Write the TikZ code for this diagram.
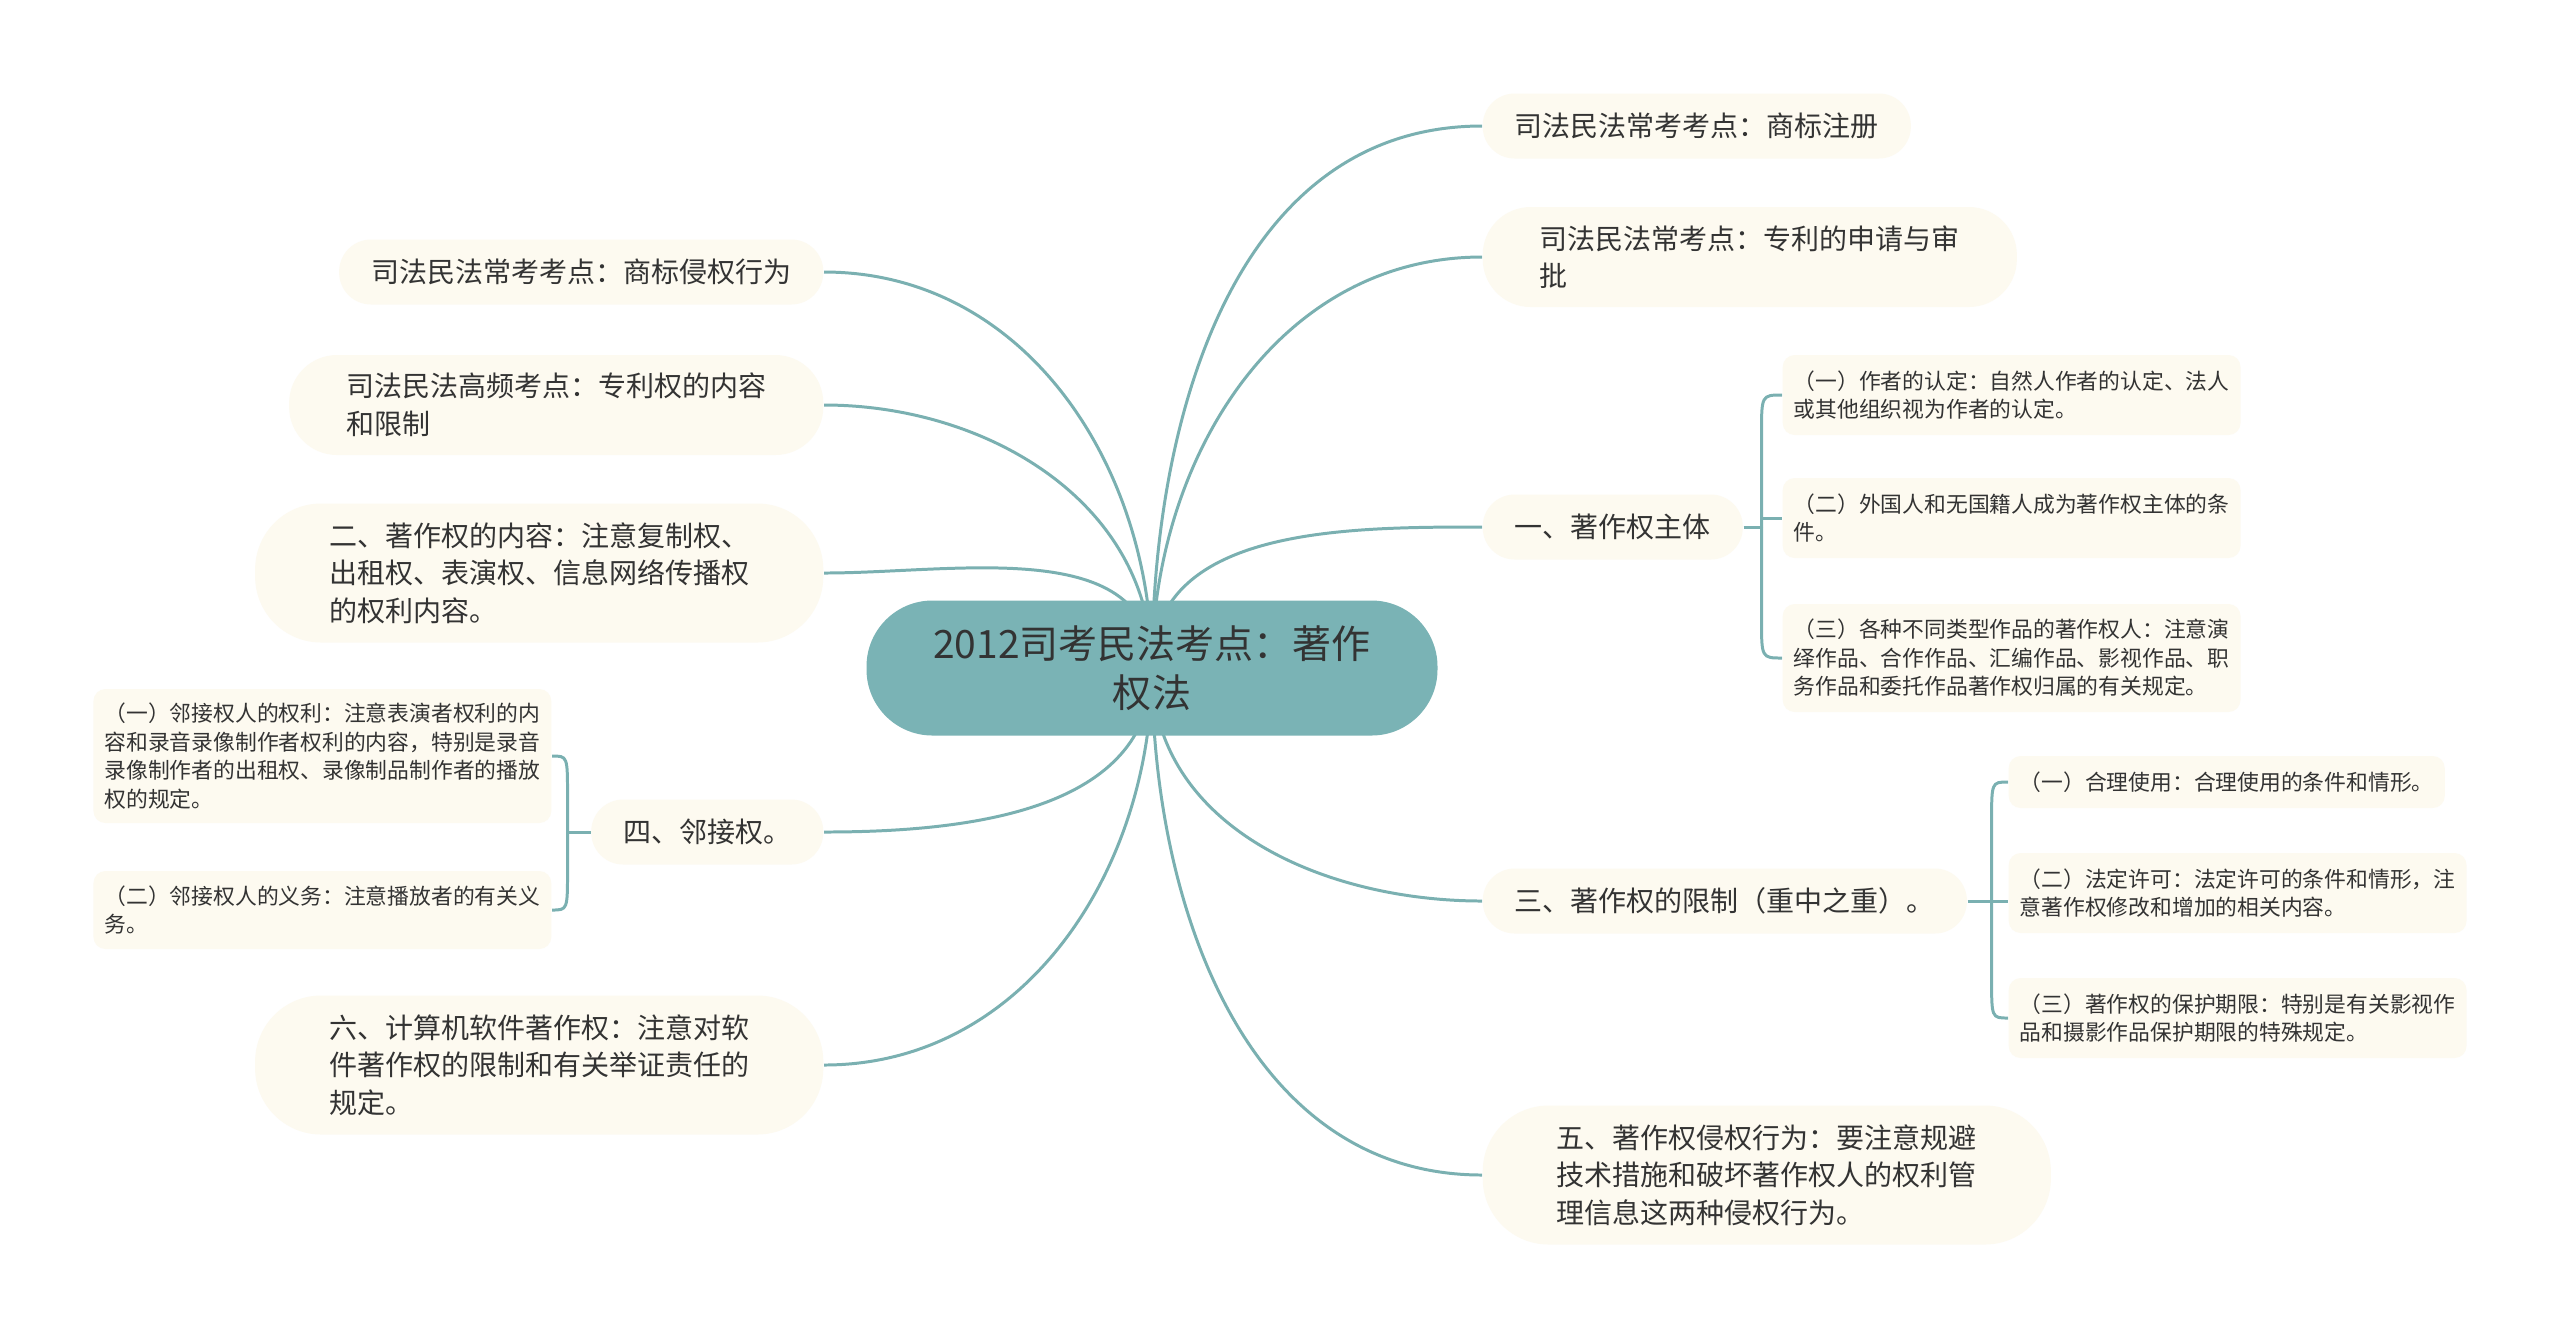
\documentclass[tikz,border=0pt]{standalone}
\usepackage{fontspec}
\setmainfont{Noto Sans CJK SC}
\usetikzlibrary{positioning,backgrounds}
\definecolor{rootcol}{HTML}{7AB3B5}
\definecolor{linkcol}{HTML}{7AB0B1}
\definecolor{creamcol}{HTML}{FDFAF0}
\definecolor{inkcol}{HTML}{333333}
\tikzset{root node/.style={fill=rootcol,text=inkcol,rounded corners=0.66cm,minimum width=5.71cm,minimum height=1.35cm,align=center,font=\fontsize{11.1}{13.9}\selectfont},
topic node/.style={fill=creamcol,text=inkcol,rounded corners=0.32cm,inner xsep=0.32cm,inner ysep=0pt,minimum height=0.65cm,align=left,font=\fontsize{7.97}{10.7}\selectfont},
twoline/.style={inner xsep=0.57cm,minimum height=1cm,rounded corners=0.48cm},
threeline/.style={inner xsep=0.74cm,minimum height=1.39cm,rounded corners=0.66cm},
leaf node/.style={fill=creamcol,text=inkcol,rounded corners=0.12cm,inner xsep=0.11cm,inner ysep=0pt,align=left,font=\fontsize{6.2}{8.1}\selectfont},
link/.style={draw=linkcol,line width=0.85pt},
}
\begin{document}
\begin{tikzpicture}
\useasboundingbox (0,0) rectangle (25.6,-13.38);
\node[root node] (root) at (11.52,-6.68) {2012司考民法考点：著作\\权法};

% right side
\node[topic node,anchor=west] (trademark) at (14.82,-1.26) {司法民法常考考点：商标注册};
\node[topic node,twoline,anchor=west] (patent) at (14.82,-2.57) {司法民法常考点：专利的申请与审\\批};
\node[topic node,anchor=west] (subject) at (14.82,-5.27) {一、著作权主体};
\node[topic node,anchor=west] (limits) at (14.82,-9.01) {三、著作权的限制（重中之重）。};
\node[topic node,threeline,anchor=west] (infringe) at (14.82,-11.75) {五、著作权侵权行为：要注意规避\\技术措施和破坏著作权人的权利管\\理信息这两种侵权行为。};

\node[leaf node,anchor=west,minimum height=0.8cm] (author) at (17.82,-3.95) {（一）作者的认定：自然人作者的认定、法人\\或其他组织视为作者的认定。};
\node[leaf node,anchor=west,minimum height=0.8cm] (foreign) at (17.82,-5.18) {（二）外国人和无国籍人成为著作权主体的条\\件。};
\node[leaf node,anchor=west,minimum height=1.08cm] (owner) at (17.82,-6.58) {（三）各种不同类型作品的著作权人：注意演\\绎作品、合作作品、汇编作品、影视作品、职\\务作品和委托作品著作权归属的有关规定。};

\node[leaf node,anchor=west,minimum height=0.52cm] (fairuse) at (20.08,-7.82) {（一）合理使用：合理使用的条件和情形。};
\node[leaf node,anchor=west,minimum height=0.8cm] (statutory) at (20.08,-8.93) {（二）法定许可：法定许可的条件和情形，注\\意著作权修改和增加的相关内容。};
\node[leaf node,anchor=west,minimum height=0.8cm] (term) at (20.08,-10.18) {（三）著作权的保护期限：特别是有关影视作\\品和摄影作品保护期限的特殊规定。};

% left side
\node[topic node,anchor=east] (tminfringe) at (8.24,-2.72) {司法民法常考考点：商标侵权行为};
\node[topic node,twoline,anchor=east] (patentright) at (8.24,-4.05) {司法民法高频考点：专利权的内容\\和限制};
\node[topic node,threeline,anchor=east] (content) at (8.24,-5.73) {二、著作权的内容：注意复制权、\\出租权、表演权、信息网络传播权\\的权利内容。};
\node[topic node,anchor=east] (neighbour) at (8.24,-8.32) {四、邻接权。};
\node[topic node,threeline,anchor=east] (software) at (8.24,-10.65) {六、计算机软件著作权：注意对软\\件著作权的限制和有关举证责任的\\规定。};

\node[leaf node,anchor=east,minimum height=1.34cm] (nrights) at (5.52,-7.56) {（一）邻接权人的权利：注意表演者权利的内\\容和录音录像制作者权利的内容，特别是录音\\录像制作者的出租权、录像制品制作者的播放\\权的规定。};
\node[leaf node,anchor=east,minimum height=0.78cm] (nduties) at (5.52,-9.10) {（二）邻接权人的义务：注意播放者的有关义\\务。};

\begin{scope}[on background layer]
\fill[white] (0,0) rectangle (25.6,-13.38);
% main branches
\draw[link] (root.center) to[out=90,in=180] (trademark.west);
\draw[link] (root.center) to[out=90,in=180] (patent.west);
\draw[link] (root.center) to[out=90,in=180] (subject.west);
\draw[link] (root.center) to[out=-90,in=180] (limits.west);
\draw[link] (root.center) to[out=-90,in=180] (infringe.west);
\draw[link] (root.center) to[out=90,in=0] (tminfringe.east);
\draw[link] (root.center) to[out=90,in=0] (patentright.east);
\draw[link] (root.center) to[out=90,in=0] (content.east);
\draw[link] (root.center) to[out=-90,in=0] (neighbour.east);
\draw[link] (root.center) to[out=-90,in=0] (software.east);

% brackets
\draw[link] (subject.east) -- ++(0.18,0) coordinate (b1);
\draw[link] (b1) -- ([yshift=-4mm]b1 |- author.west) .. controls (b1 |- author.west) .. (author.west);
\draw[link] (b1) -- (b1 |- foreign.west) -- (foreign.west);
\draw[link] (b1) -- ([yshift=4mm]b1 |- owner.west) .. controls (b1 |- owner.west) .. (owner.west);

\draw[link] (limits.east) -- ++(0.24,0) coordinate (b3);
\draw[link] (b3) -- ([yshift=-4mm]b3 |- fairuse.west) .. controls (b3 |- fairuse.west) .. (fairuse.west);
\draw[link] (b3) -- (b3 -| statutory.west);
\draw[link] (b3) -- ([yshift=4mm]b3 |- term.west) .. controls (b3 |- term.west) .. (term.west);

\draw[link] (neighbour.west) -- ++(-0.23,0) coordinate (b4);
\draw[link] (b4) -- ([yshift=-4mm]b4 |- nrights.east) .. controls (b4 |- nrights.east) .. (nrights.east);
\draw[link] (b4) -- ([yshift=4mm]b4 |- nduties.east) .. controls (b4 |- nduties.east) .. (nduties.east);
\end{scope}
\end{tikzpicture}
\end{document}
